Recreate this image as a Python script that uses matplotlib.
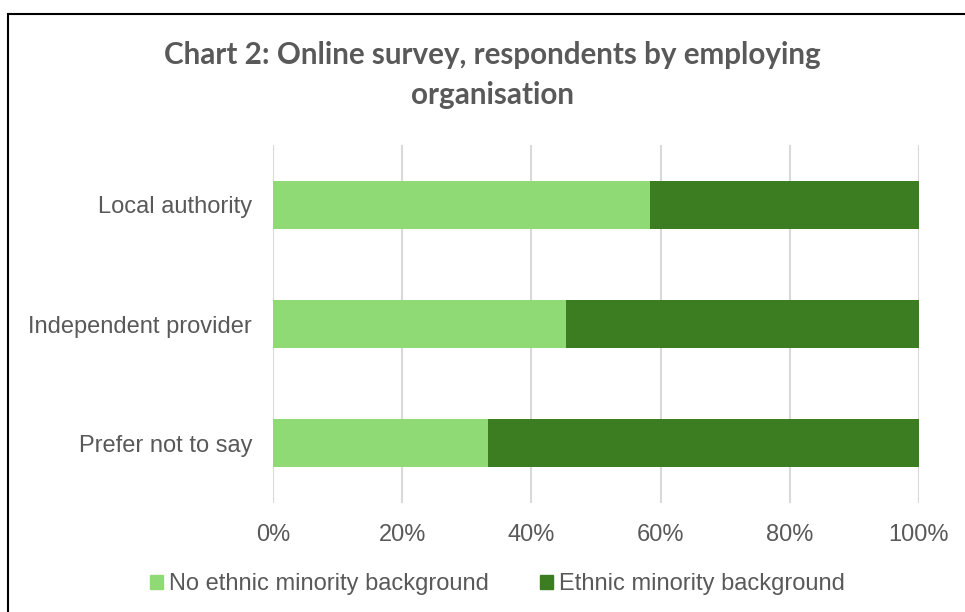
import matplotlib
matplotlib.use("Agg")
import matplotlib.pyplot as plt
from matplotlib.patches import Patch, Rectangle

# data (percent of respondents)
categories = ["Local authority", "Independent provider", "Prefer not to say"]
no_minority = [58.4, 45.4, 33.3]
minority = [100 - v for v in no_minority]
series_names = ["No ethnic minority background", "Ethnic minority background"]
xticks = [0, 20, 40, 60, 80, 100]

light_green = "#8FDA75"
dark_green = "#3C7D22"
grey_text = "#595959"

plt.rcParams["font.family"] = ["Liberation Sans", "DejaVu Sans"]

fig = plt.figure(figsize=(9.65, 6.12), dpi=100)
ax = fig.add_axes([273 / 965, 1 - 503 / 612, 646 / 965, 358 / 612])

ypos = list(range(len(categories)))
ax.barh(ypos, no_minority, height=0.4, color=light_green, zorder=3)
ax.barh(ypos, minority, left=no_minority, height=0.4, color=dark_green, zorder=3)

ax.set_xlim(0, 100)
ax.set_ylim(len(categories) - 0.5, -0.5)
ax.set_yticks(ypos)
ax.set_yticklabels(categories)
ax.set_xticks(xticks)
ax.set_xticklabels([f"{t}%" for t in xticks])
ax.tick_params(axis="both", length=0, labelsize=17, labelcolor=grey_text)
ax.tick_params(axis="y", pad=15)
ax.tick_params(axis="x", pad=15)
ax.grid(axis="x", color="#D9D9D9", linewidth=1.5, zorder=0)
for s in ax.spines.values():
    s.set_visible(False)

fig.text(492 / 965, 1 - 75 / 612,
         "Chart 2: Online survey, respondents by employing\norganisation",
         ha="center", va="center", fontsize=21.3, fontweight="bold",
         color=grey_text, family=["Lato", "DejaVu Sans"], linespacing=1.55)

handles = [Patch(color=light_green), Patch(color=dark_green)]
fig.legend(handles, series_names, loc="center", bbox_to_anchor=(0.5155, 1 - 584 / 612),
           ncol=2, frameon=False, fontsize=17, labelcolor=grey_text,
           handlelength=0.55, handleheight=0.55, handletextpad=0.25, columnspacing=2.2)

# chart frame, only left and top edges fall inside the image
fig.patches.append(Rectangle((8 / 965, -0.1), 1.2, 1 - 14 / 612 + 0.1,
                             transform=fig.transFigure, fill=False,
                             edgecolor="black", linewidth=1.5, clip_on=False))

fig.savefig("out.png", dpi=100)
